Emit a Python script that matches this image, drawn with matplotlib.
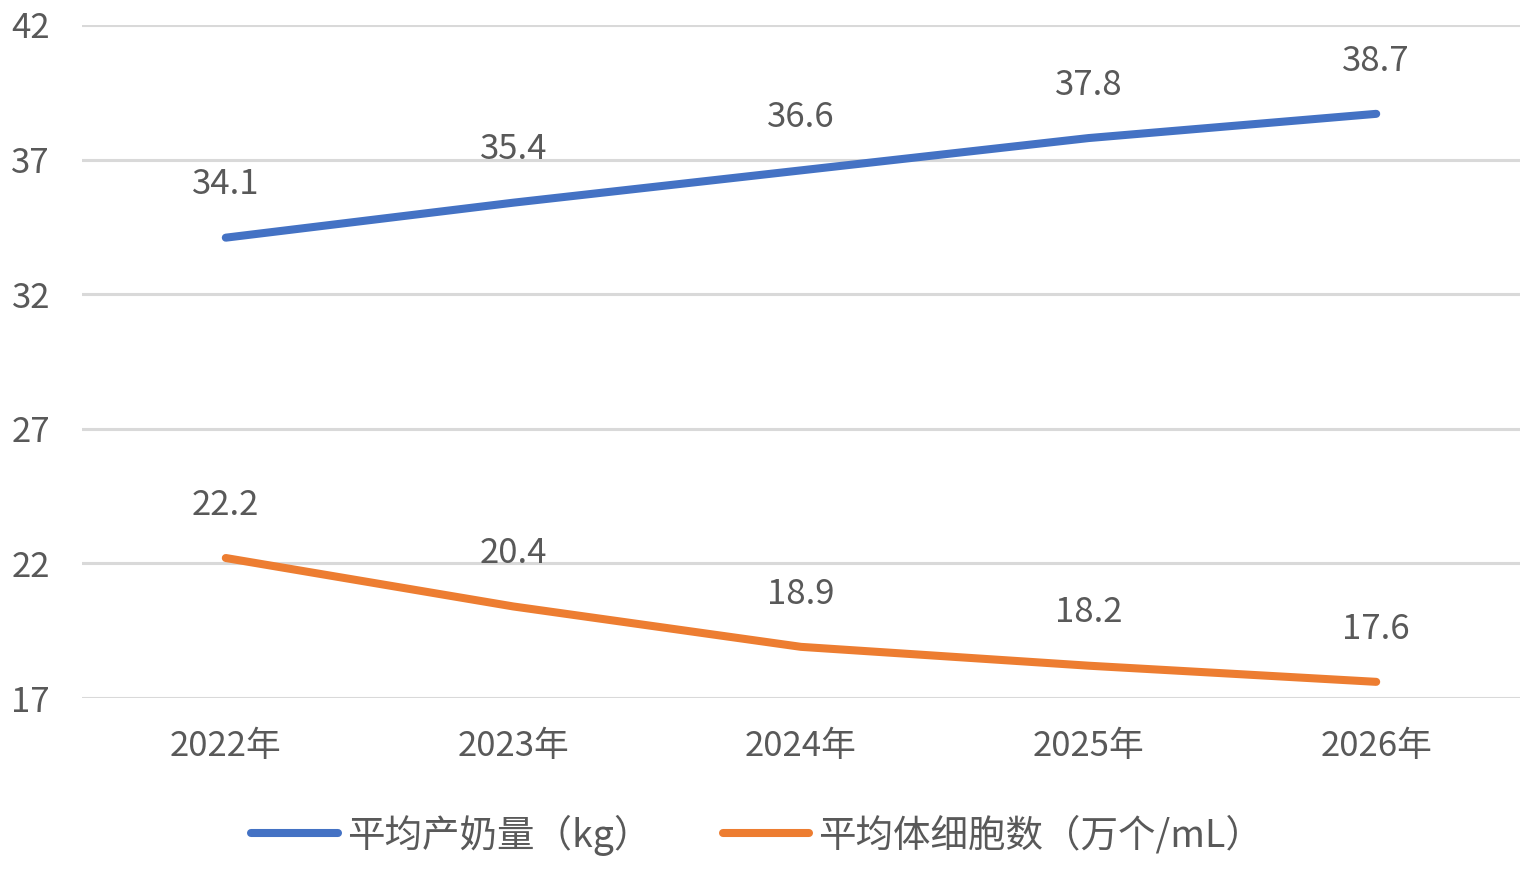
import matplotlib.pyplot as plt

plt.rcParams['font.family'] = ['Noto Sans CJK SC', 'DejaVu Sans']

years = ["2022年", "2023年", "2024年", "2025年", "2026年"]
milk_yield = [34.1, 35.4, 36.6, 37.8, 38.7]
somatic_cells = [22.2, 20.4, 18.9, 18.2, 17.6]
yticks = [17, 22, 27, 32, 37, 42]

text_color = "#595959"
fs = 25

fig = plt.figure(figsize=(15.33, 8.69), dpi=100)
ax = fig.add_axes([82 / 1533, 1 - 698 / 869, (1520 - 82) / 1533, (698 - 25) / 869])

x = list(range(len(years)))
ax.plot(x, milk_yield, color="#4472C4", lw=5.8, solid_capstyle="round", label="平均产奶量（kg）")
ax.plot(x, somatic_cells, color="#ED7D31", lw=5.8, solid_capstyle="round", label="平均体细胞数（万个/mL）")

# data labels
for series in (milk_yield, somatic_cells):
    for i, v in zip(x, series):
        ax.annotate(f"{v}", (i, v), xytext=(0, 38), textcoords="offset points",
                    ha="center", va="center", fontsize=fs, color=text_color)

ax.set_xlim(-0.5, len(years) - 0.5)
ax.set_ylim(17, 42)
ax.set_yticks(yticks)
ax.set_xticks(x)
ax.set_xticklabels(years)
ax.grid(axis="y", color="#d9d9d9", lw=2.2)
ax.set_axisbelow(True)
for s in ax.spines.values():
    s.set_visible(False)
ax.tick_params(axis="both", length=0, labelsize=fs, labelcolor=text_color)
ax.tick_params(axis="y", pad=23)
ax.tick_params(axis="x", pad=22)

fig.legend(loc="center", bbox_to_anchor=(0.494, 1 - 835 / 869), ncol=2, frameon=False,
           fontsize=27, handlelength=2.3, handletextpad=0.25, columnspacing=1.9,
           labelcolor=text_color)

plt.savefig("out.png", dpi=100)
